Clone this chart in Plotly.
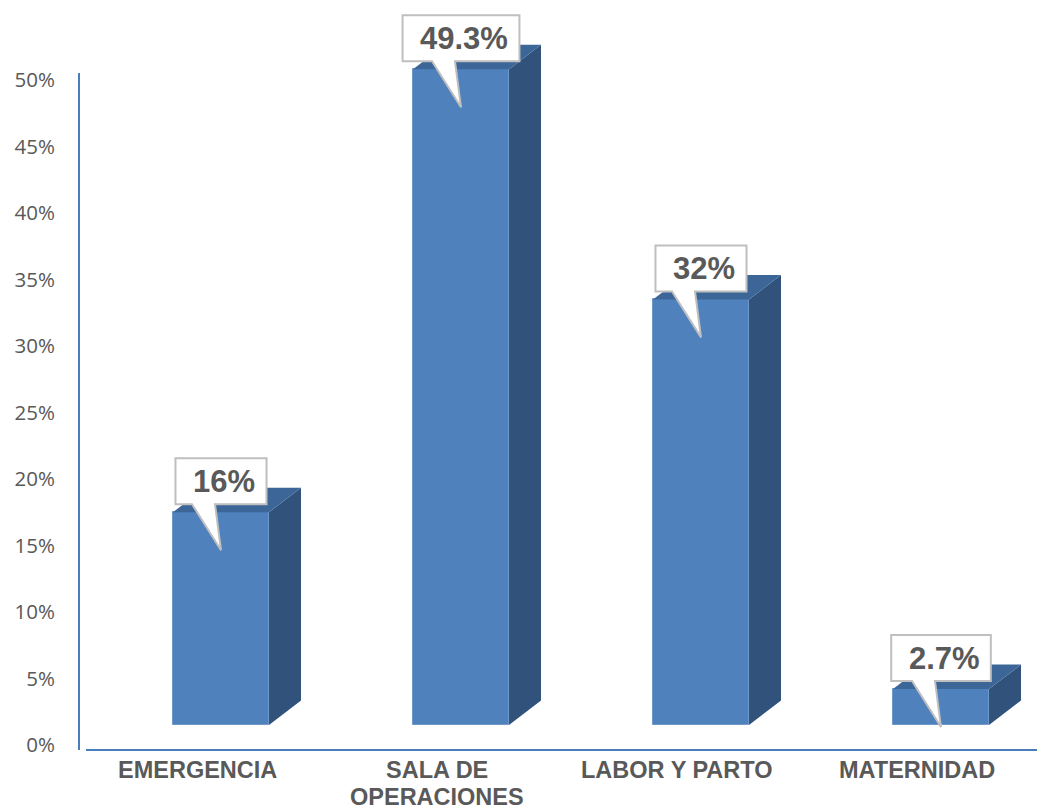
import plotly.graph_objects as go

# ---- data -------------------------------------------------------------
categories = ["EMERGENCIA", "SALA DE\nOPERACIONES", "LABOR Y PARTO", "MATERNIDAD"]
values = [16.0, 49.3, 32.0, 2.7]
value_labels = ["16%", "49.3%", "32%", "2.7%"]
y_ticks = [0, 5, 10, 15, 20, 25, 30, 35, 40, 45, 50]
y_tick_text = [f"{t}%" for t in y_ticks]

# ---- canvas / plot area ------------------------------------------------
W, H = 1039, 808
ML, MR, MT, MB = 77, 2, 0, 58
PW, PH = W - ML - MR, H - MT - MB
PX_PER_PCT = 13.3                      # vertical scale (pixels per percent)
Y_LO = -5 / PX_PER_PCT
Y_HI = Y_LO + PH / PX_PER_PCT
X_LO, X_HI = -0.5, len(categories) - 0.5
PX_PER_CAT = PW / (X_HI - X_LO)


def px_x(p):
    return p / PX_PER_CAT


def px_y(p):
    return p / PX_PER_PCT


# ---- 3-D bar geometry & styling ----------------------------------------
FLOOR = px_y(20)          # front faces stand on a floor lifted above the axis
FACE_W = 0.4
FACE_OFF = -0.1
DX, DY = px_x(32), px_y(24.5)

FRONT, TOP, SIDE = "#4F81BD", "#3C6698", "#30527B"
AXIS_BLUE = "#4A7EBB"
TEXT_GREY = "#595959"
LABEL_FONT = "Liberation Sans, Arial, sans-serif"

xs = list(range(len(categories)))

fig = go.Figure()

# side and top faces
for i, v in zip(xs, values):
    xl = i + FACE_OFF
    xr = xl + FACE_W
    yb = FLOOR
    yt = FLOOR + v
    fig.add_trace(go.Scatter(
        x=[xr, xr, xr + DX, xr + DX, xr],
        y=[yb, yt, yt + DY, yb + DY, yb],
        mode="lines", fill="toself", fillcolor=SIDE,
        line=dict(width=0), hoverinfo="skip", showlegend=False))
    fig.add_trace(go.Scatter(
        x=[xl, xr, xr + DX, xl + DX, xl],
        y=[yt, yt, yt + DY, yt + DY, yt],
        mode="lines", fill="toself", fillcolor=TOP,
        line=dict(width=0), hoverinfo="skip", showlegend=False))

# front faces
fig.add_trace(go.Bar(
    x=xs, y=values, base=FLOOR, width=FACE_W, offset=FACE_OFF,
    marker=dict(color=FRONT, line=dict(color="#6F98CB", width=1)),
    hoverinfo="skip", showlegend=False))


def text_width(s, size):
    em = {".": 0.278, "%": 0.889}
    return sum(em.get(c, 0.556) for c in s) * size


shapes = []
annotations = []

# value call-outs
CALL_FONT = 31
for i, v, lab in zip(xs, values, value_labels):
    cx = i + FACE_OFF + FACE_W / 2
    top = FLOOR + v
    w = max(90, text_width(lab, CALL_FONT) + 29)
    x0, x1 = cx - px_x(w / 2), cx + px_x(w / 2)
    y0 = top + px_y(8)
    y1 = y0 + px_y(46)
    tl, tr = cx - px_x(29), cx - px_x(6)
    tip_y = top - px_y(38)
    path = (f"M {x0},{y1} L {x1},{y1} L {x1},{y0} L {tr},{y0} "
            f"L {cx},{tip_y} L {tl},{y0} L {x0},{y0} Z")
    shapes.append(dict(type="path", path=path, xref="x", yref="y",
                       fillcolor="white", line=dict(color="#BFBFBF", width=2),
                       layer="above"))
    annotations.append(dict(
        x=cx, y=(y0 + y1) / 2, xref="x", yref="y", text=lab, showarrow=False,
        xanchor="center", yanchor="middle", xshift=3,
        font=dict(family=LABEL_FONT, size=CALL_FONT, color=TEXT_GREY, weight="bold")))

# category labels
for i, cat in zip(xs, categories):
    for k, line in enumerate(cat.split("\n")):
        annotations.append(dict(
            x=i, y=0, xref="x", yref="paper", text=line, showarrow=False,
            xanchor="center", yanchor="middle", yshift=-(20 + 27 * k),
            font=dict(family=LABEL_FONT, size=23.5, color=TEXT_GREY, weight="bold")))

# axis lines
shapes.append(dict(type="line", xref="paper", yref="y",
                   x0=px_x(2) / (X_HI - X_LO), x1=px_x(2) / (X_HI - X_LO),
                   y0=Y_LO, y1=y_ticks[-1] + px_y(7),
                   line=dict(color=AXIS_BLUE, width=2)))
shapes.append(dict(type="line", xref="paper", yref="paper",
                   x0=9 / PW, x1=1, y0=0, y1=0,
                   line=dict(color=AXIS_BLUE, width=2)))

fig.update_layout(
    width=W, height=H,
    margin=dict(l=ML, r=MR, t=MT, b=MB),
    paper_bgcolor="white", plot_bgcolor="white",
    showlegend=False,
    bargap=0,
    xaxis=dict(range=[X_LO, X_HI], showgrid=False, zeroline=False,
               showline=False, showticklabels=False, ticks=""),
    yaxis=dict(range=[Y_LO, Y_HI], showgrid=False, zeroline=False,
               showline=False, tickmode="array", tickvals=y_ticks,
               ticktext=y_tick_text, ticks="",
               ticklabelstandoff=21,
               tickfont=dict(family="Open Sans, sans-serif", size=20.5,
                             color=TEXT_GREY)),
    shapes=shapes,
    annotations=annotations,
)

fig.write_html("out.html")
